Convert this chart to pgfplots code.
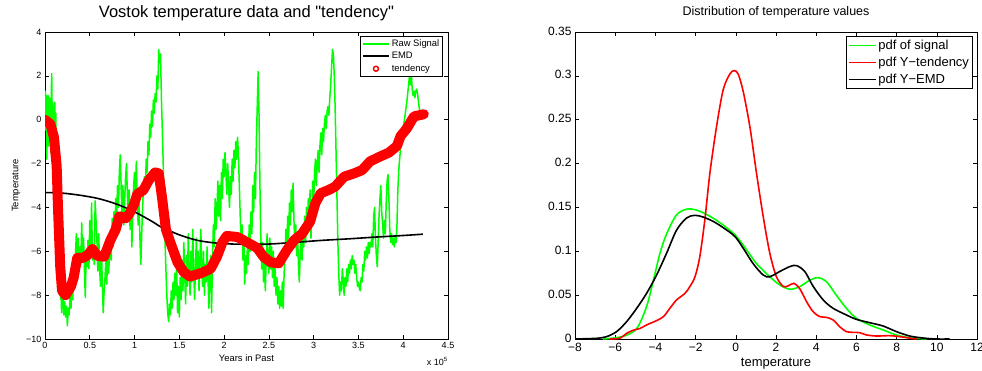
\documentclass[border=0pt]{standalone}
\usepackage{pgfplots}
\pgfplotsset{compat=1.18}
\usepackage{pgfplotstable}
\usepackage{fontspec}
\setmainfont{Liberation Sans}
\newfontfamily\plainquote{Liberation Sans}[Ligatures=TeXOff]

\pgfplotstableread{
t T
0 -0.5
0.5 1.3
1 0.2
1.5 1.1
2 -1.8
2.5 0.9
3 -0.5
3.5 1.1
4 -1.2
4.5 0.6
5 1.0
5.5 -0.8
6 0.3
6.5 -1.5
7 1.1
7.5 2.1
8 -0.2
8.5 0.8
9 -1.6
9.5 0.4
10 -1.0
10.5 0.6
11 0.8
11.5 -1.2
12 0.3
12.5 -1.4
13 -1.0
13.5 -2.5
14 -3.8
14.5 -5.2
15 -4.6
15.5 -6.0
16 -6.8
16.5 -6.2
17 -7.5
17.5 -8.2
18 -7.6
18.5 -8.8
19 -8.0
19.5 -8.6
20 -7.8
21 -8.9
22 -8.3
23 -9.0
24 -8.5
25 -9.4
26 -8.6
27 -8.9
28 -7.9
29 -8.6
30 -7.5
31 -8.2
32 -7.0
33 -7.6
34 -6.2
35 -5.2
36 -6.5
37 -5.4
38 -6.8
39 -5.8
40 -6.6
41 -4.7
42 -6.4
43 -5.4
44 -6.8
45 -8.1
46 -6.0
47 -6.7
48 -5.5
49 -6.8
50 -4.6
51 -6.2
52 -3.8
53 -6.4
54 -5.8
55 -6.6
56 -3.7
57 -4.6
58 -5.5
59 -6.9
60 -5.2
61 -6.8
62 -7.6
63 -6.0
64 -7.4
65 -8.8
66 -7.8
67 -7.2
68 -6.4
69 -7.5
70 -5.8
71 -7.0
72 -6.2
73 -5.2
74 -6.4
75 -4.5
76 -5.8
77 -4.2
78 -5.4
79 -3.6
80 -4.4
81 -3.0
82 -4.0
83 -2.4
84 -1.6
85 -3.0
86 -4.4
87 -3.0
88 -4.8
89 -3.6
90 -2.6
91 -2.0
92 -3.4
93 -4.6
94 -3.2
95 -5.0
96 -3.8
97 -5.8
98 -4.2
99 -3.0
100 -2.4
101 -3.2
102 -1.9
103 -3.6
104 -4.8
105 -3.8
106 -5.4
107 -6.6
108 -5.2
109 -4.0
110 -3.0
111 -2.6
112 -3.4
113 -1.8
114 -2.4
115 -1.0
116 -1.6
117 -0.2
118 -0.8
119 0.4
120 -0.3
121 0.9
122 0.3
123 1.2
124 0.8
125 2.0
126 1.4
127 3.2
128 2.6
129 3.0
130 1.0
131 -0.5
132 -2.0
133 -4.0
134 -5.5
135 -6.8
136 -8.0
137 -8.8
138 -9.2
139 -8.4
140 -8.9
141 -7.8
142 -8.6
143 -7.4
144 -8.2
145 -7.0
146 -8.0
147 -6.6
148 -8.8
149 -7.6
150 -9.0
151 -7.2
152 -8.2
153 -6.4
154 -7.8
155 -5.6
156 -7.0
157 -8.4
158 -6.2
159 -7.6
160 -5.2
161 -6.8
162 -8.0
163 -6.0
164 -7.4
165 -5.0
166 -6.6
167 -8.2
168 -6.8
169 -5.4
170 -7.2
171 -6.0
172 -7.8
173 -6.4
174 -5.0
175 -6.8
176 -7.6
177 -6.0
178 -8.0
179 -6.6
180 -7.4
181 -5.8
182 -7.2
183 -8.6
184 -7.0
185 -6.2
186 -8.8
187 -6.4
188 -4.8
189 -5.8
190 -3.6
191 -5.0
192 -4.2
193 -2.8
194 -4.4
195 -3.0
196 -4.6
197 -2.4
198 -3.6
199 -1.8
200 -2.6
201 -1.5
202 -2.4
203 -3.4
204 -2.0
205 -3.0
206 -4.0
207 -2.6
208 -3.4
209 -1.8
210 -2.8
211 -1.4
212 -2.2
213 -1.0
214 -1.8
215 -0.8
216 -1.6
217 -3.0
218 -4.4
219 -5.6
220 -4.8
221 -6.4
222 -5.4
223 -7.5
224 -6.2
225 -7.0
226 -5.8
227 -6.6
228 -4.8
229 -6.0
230 -4.2
231 -5.2
232 -3.0
233 -4.2
234 -2.4
235 -3.6
236 -1.0
237 0.6
238 2.2
239 0.2
240 -3.0
241 -5.5
242 -6.8
243 -5.6
244 -7.4
245 -6.0
246 -7.8
247 -6.4
248 -5.2
249 -6.6
250 -7.0
251 -5.4
252 -6.8
253 -5.8
254 -7.2
255 -6.0
256 -7.6
257 -6.8
258 -8.0
259 -7.2
260 -8.4
261 -7.6
262 -8.6
263 -7.8
264 -8.5
265 -7.4
266 -8.6
267 -7.0
268 -6.2
269 -5.0
270 -6.0
271 -4.4
272 -5.4
273 -3.8
274 -4.8
275 -3.2
276 -4.2
277 -2.9
278 -4.6
279 -5.8
280 -4.8
281 -6.2
282 -5.2
283 -6.6
284 -7.4
285 -6.0
286 -5.2
287 -6.4
288 -4.8
289 -5.8
290 -4.4
291 -5.6
292 -4.0
293 -5.2
294 -3.6
295 -4.8
296 -3.2
297 -5.4
298 -4.2
299 -2.8
300 -3.8
301 -2.4
302 -1.8
303 -3.0
304 -2.0
305 -1.4
306 -2.4
307 -1.2
308 -0.6
309 -1.6
310 -0.4
311 -1.0
312 -0.2
313 0.2
314 -0.4
315 0.4
316 0.6
317 0.2
318 1.0
319 1.6
320 2.4
321 3.2
322 3.0
323 2.0
324 0.5
325 -1.5
326 -3.5
327 -5.5
328 -7.0
329 -8.0
330 -7.4
331 -7.8
332 -6.8
333 -7.3
334 -8.0
335 -7.2
336 -7.6
337 -6.8
338 -7.4
339 -6.6
340 -7.0
341 -6.4
342 -6.8
343 -6.2
344 -6.6
345 -6.4
346 -7.0
347 -6.6
348 -7.2
349 -7.6
350 -7.4
351 -7.7
352 -7.8
353 -7.2
354 -7.4
355 -6.6
356 -6.9
357 -6.0
358 -6.4
359 -5.8
360 -6.3
361 -5.6
362 -6.1
363 -5.6
364 -5.8
365 -5.2
366 -5.8
367 -4.4
368 -4.0
369 -5.4
370 -6.2
371 -6.7
372 -5.6
373 -4.4
374 -3.6
375 -3.0
376 -4.2
377 -4.8
378 -5.4
379 -4.6
380 -5.2
381 -3.8
382 -2.8
383 -2.5
384 -3.6
385 -5.0
386 -5.6
387 -5.2
388 -5.7
389 -5.4
390 -5.8
391 -5.3
392 -5.6
393 -4.8
394 -3.2
395 -2.3
396 -1.8
397 -1.3
398 -1.0
399 -0.6
400 -0.3
401 -0.1
402 0.2
403 0.5
404 0.8
405 1.2
406 1.6
407 2.0
408 1.6
409 2.1
410 1.4
411 1.1
412 1.3
413 1.0
414 1.3
415 1.4
416 1.2
417 0.8
418 0.5
419 0.4
420 0.4
}\rawsignal

\pgfplotstableread{
t T
0 -3.32
20 -3.35
40 -3.45
60 -3.6
80 -3.85
100 -4.2
120 -4.65
130 -4.9
150 -5.25
170 -5.5
190 -5.62
210 -5.67
230 -5.68
250 -5.67
270 -5.62
290 -5.56
310 -5.5
340 -5.43
370 -5.35
400 -5.28
422 -5.22
}\emd

\pgfplotstableread{
t T
0 0
6 -0.2
10 -0.8
13 -2.1
14.5 -4.0
17 -6.7
19 -7.8
23 -8.0
29 -7.6
32 -7.2
36 -6.3
42 -6.3
47 -6.2
53 -5.9
58 -6.2
66 -6.25
73 -5.5
79 -5.0
83 -4.4
90 -4.5
94 -4.3
99 -3.9
103 -3.4
110 -3.2
116 -2.75
123 -2.4
127 -2.45
131 -3.65
135 -5.0
140 -5.6
148 -6.5
155 -6.95
162 -7.15
174 -7.0
185 -6.8
192 -6.25
198 -5.6
203 -5.3
215 -5.35
226 -5.6
237 -5.85
244 -6.25
252 -6.5
261 -6.55
270 -5.95
278 -5.5
287 -5.2
296 -4.65
302 -3.8
308 -3.35
317 -3.2
324 -3.05
334 -2.6
345 -2.45
354 -2.3
363 -1.9
373 -1.7
384 -1.5
393 -1.2
397 -0.75
404 -0.4
412 0.15
423 0.25
}\tendency

\pgfplotstableread{
x y
-6.6 0
-5.6 0.003
-4.93 0.012
-4.44 0.037
-4.1 0.067
-3.77 0.098
-3.44 0.12
-2.95 0.1415
-2.45 0.148
-1.95 0.147
-1.29 0.14
-0.63 0.13
-0.05 0.119
0.37 0.107
1.03 0.086
1.69 0.071
2.19 0.0616
2.69 0.0567
3.18 0.0597
3.68 0.067
4.1 0.07
4.51 0.0654
5.0 0.05
5.5 0.035
6.0 0.0236
6.66 0.016
7.33 0.0103
7.99 0.0046
8.65 0.0015
9.48 0
}\pdfsignal

\pgfplotstableread{
x y
-6.26 0
-5.76 0.001
-5.43 0.0065
-5.1 0.010
-4.77 0.012
-4.44 0.016
-3.94 0.021
-3.6 0.0255
-3.28 0.035
-2.95 0.0445
-2.53 0.052
-2.28 0.06
-2.03 0.071
-1.79 0.094
-1.54 0.136
-1.29 0.189
-0.96 0.242
-0.63 0.284
-0.3 0.302
-0.08 0.306
0.12 0.302
0.37 0.282
0.7 0.242
1.03 0.189
1.36 0.14
1.69 0.098
2.02 0.071
2.36 0.06
2.6 0.0605
2.89 0.0635
3.18 0.0574
3.52 0.0426
3.85 0.031
4.18 0.0255
4.51 0.0247
4.84 0.0217
5.17 0.014
5.5 0.0084
5.84 0.0076
6.17 0.0072
6.5 0.0046
7.0 0.0034
7.66 0.0038
8.16 0.0027
8.82 0.0004
9.0 0
}\pdftend

\pgfplotstableread{
x y
-8 0
-6.92 0.0008
-6.43 0.0027
-5.93 0.0084
-5.43 0.0198
-4.93 0.035
-4.44 0.052
-3.94 0.073
-3.44 0.098
-2.95 0.124
-2.45 0.138
-2.03 0.141
-1.62 0.139
-1.12 0.134
-0.63 0.127
-0.05 0.117
0.37 0.1035
0.86 0.086
1.36 0.073
1.69 0.071
2.19 0.077
2.69 0.0826
3.02 0.0837
3.43 0.077
3.85 0.06
4.35 0.0445
4.84 0.035
5.5 0.0274
6.0 0.0224
6.66 0.0186
7.33 0.0148
7.99 0.0084
8.65 0.0034
9.32 0.0011
9.98 0
10.64 0
}\pdfemd

\begin{document}
\begin{tikzpicture}
\useasboundingbox (0,0) rectangle (982pt,370pt);
% ---------------- left ----------------
\begin{axis}[
  name=L,
  at={(45pt,31pt)}, anchor=south west,
  scale only axis, width=403pt, height=307pt,
  xmin=0, xmax=450, ymin=-10, ymax=4,
  xtick={0,50,100,150,200,250,300,350,400,450},
  xticklabels={0,0.5,1,1.5,2,2.5,3,3.5,4,4.5},
  ytick={-10,-8,-6,-4,-2,0,2,4},
  yticklabels={−10,−8,−6,−4,−2,0,2,4},
  tick label style={font=\fontsize{9}{9}\selectfont},
  axis line style={line width=0.8pt},
  tick style={black, line width=0.6pt},
  major tick length=4pt,
  title={\plainquote Vostok temperature data and "tendency"},
  title style={at={(0.5,1)}, anchor=base, yshift=8.7pt, font=\fontsize{16.5}{17}\selectfont},
  xlabel={Years in Past},
  x label style={at={(axis description cs:0.5,0)}, anchor=base, yshift=-22.7pt, font=\fontsize{9.4}{10}\selectfont},
  ylabel={Temperature},
  y label style={at={(axis description cs:-0.0658,0.5)}, anchor=base, font=\fontsize{9.4}{10}\selectfont},
  legend style={at={(1,1)}, anchor=north east, xshift=-5pt, yshift=-4pt,
    draw=black, line width=1pt, font=\fontsize{9.4}{10}\selectfont,
    inner sep=1.2pt, row sep=0.3pt, cells={anchor=west}},
]
\addplot[color=green, line width=1.5pt, line join=round,
  legend image code/.code={\draw[green, line width=1.4pt] (0pt,0pt) -- (26pt,0pt);}]
  table[x=t, y=T] {\rawsignal};
\addlegendentry{Raw Signal}
\addplot[color=black, line width=1.6pt, smooth,
  legend image code/.code={\draw[black, line width=1.6pt] (0pt,0pt) -- (26pt,0pt);}]
  table[x=t, y=T] {\emd};
\addlegendentry{EMD}
\addplot[color=red, line width=10pt, line cap=round, line join=round,
  legend image code/.code={\draw[red, line width=1.5pt] (13pt,0pt) circle (2.5pt);}]
  table[x=t, y=T] {\tendency};
\addlegendentry{tendency}
\end{axis}
\node[anchor=base east, font=\fontsize{9}{9}\selectfont, inner sep=0pt] at ([yshift=-26pt]L.south east) {x 10\textsuperscript{5}};
% ---------------- right ----------------
\begin{axis}[
  at={(575pt,31pt)}, anchor=south west,
  scale only axis, width=402pt, height=307pt,
  xmin=-8, xmax=12, ymin=0, ymax=0.35,
  xtick={-8,-6,-4,-2,0,2,4,6,8,10,12},
  xticklabels={−8,−6,−4,−2,0,2,4,6,8,10,12},
  ytick={0,0.05,0.1,0.15,0.2,0.25,0.3,0.35},
  yticklabels={0,0.05,0.1,0.15,0.2,0.25,0.3,0.35},
  tick label style={font=\fontsize{12}{12}\selectfont},
  xticklabel style={yshift=-1pt},
  yticklabel style={yshift=1pt},
  axis line style={line width=0.8pt},
  tick style={black, line width=0.6pt},
  major tick length=4pt,
  title={Distribution of temperature values},
  title style={at={(0.5,1)}, anchor=base, yshift=11pt, font=\fontsize{12.5}{13}\selectfont},
  xlabel={temperature},
  x label style={at={(axis description cs:0.5,0)}, anchor=base, yshift=-27pt, font=\fontsize{13}{13}\selectfont},
  legend style={at={(1,1)}, anchor=north east, xshift=-4pt, yshift=-4pt,
    draw=black, line width=1pt, font=\fontsize{13}{13}\selectfont,
    inner sep=1.5pt, row sep=2pt, cells={anchor=west}},
]
\addplot[color=green, line width=1.6pt, smooth, tension=0.5,
  legend image code/.code={\draw[green, line width=1.6pt] (0pt,0pt) -- (27pt,0pt);}]
  table[x=x, y=y] {\pdfsignal};
\addlegendentry{pdf of signal}
\addplot[color=red, line width=1.6pt, smooth, tension=0.5,
  legend image code/.code={\draw[red, line width=1.6pt] (0pt,0pt) -- (27pt,0pt);}]
  table[x=x, y=y] {\pdftend};
\addlegendentry{pdf Y−tendency}
\addplot[color=black, line width=1.6pt, smooth, tension=0.5,
  legend image code/.code={\draw[black, line width=1.6pt] (0pt,0pt) -- (27pt,0pt);}]
  table[x=x, y=y] {\pdfemd};
\addlegendentry{pdf Y−EMD}
\end{axis}
\end{tikzpicture}
\end{document}
